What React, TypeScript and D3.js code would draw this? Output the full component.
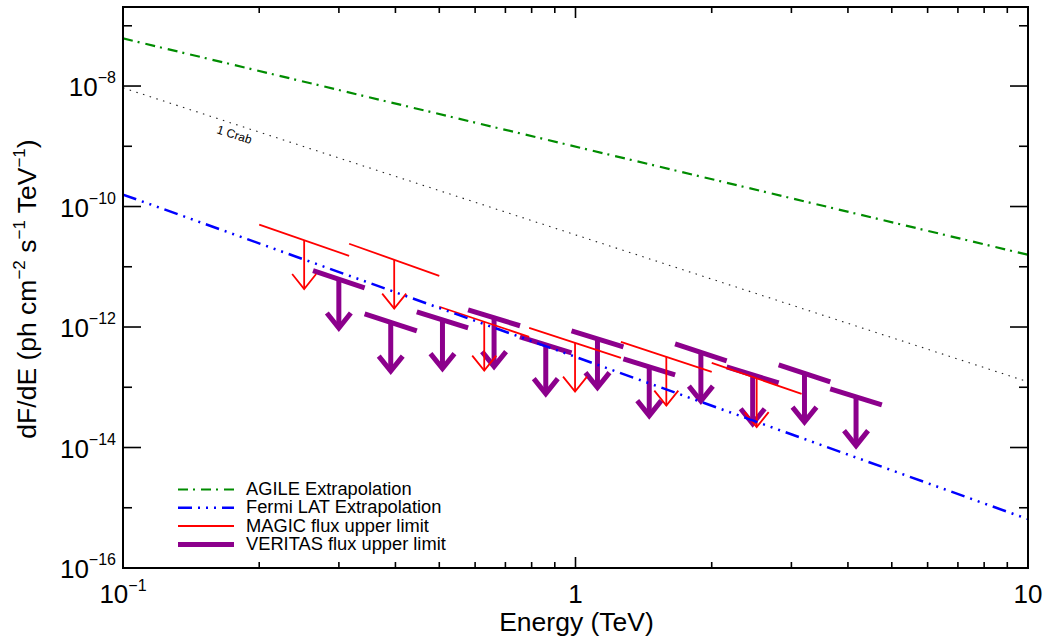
import React, { useEffect } from "react";
import * as d3 from "d3";

// ---------- data ----------
const lineEnergy = [0.1, 10];
const agileFlux = [6.17e-8, 1.58e-11];
const crabFlux = [9.33e-9, 1.23e-13];
const fermiFlux = [1.58e-10, 6.46e-16];

const magicELo = [0.2, 0.316, 0.5, 0.79, 1.26, 2.0];
const magicEHi = [0.316, 0.5, 0.79, 1.26, 2.0, 3.16];
const magicFLo = [4.99e-11, 2.41e-11, 2.17e-12, 9.7e-13, 5.68e-13, 2.54e-13];
const magicFHi = [1.52e-11, 7.08e-12, 6.87e-13, 3.08e-13, 1.8e-13, 7.76e-14];

const veritasEdges = [0.263, 0.342, 0.446, 0.579, 0.754, 0.98, 1.276, 1.66, 2.158, 2.812, 3.656, 4.753];
const veritasFLo = [8.59e-12, 1.66e-12, 1.79e-12, 1.93e-12, 6.87e-13, 8.65e-13, 2.96e-13, 5.26e-13, 2.18e-13, 2.36e-13, 9.4e-14];
const veritasFHi = [4.48e-12, 8.65e-13, 9.7e-13, 1.05e-12, 3.72e-13, 4.69e-13, 1.61e-13, 2.75e-13, 1.18e-13, 1.23e-13, 5.11e-14];

const arrowDecades = 0.81;

const xMajorTicks = [0.1, 1, 10];
const xTickLabels = [
  { v: 0.1, base: "10", exp: "\u22121" },
  { v: 1, base: "1", exp: "" },
  { v: 10, base: "10", exp: "" },
];
const yExpMin = -16;
const yExpMax = -7;
const yLabelExps = [-16, -14, -12, -10, -8];

const legendItems = [
  { label: "AGILE Extrapolation", color: "#008c00", width: 2.2, dash: "10,5,2,6" },
  { label: "Fermi LAT Extrapolation", color: "#0000ff", width: 2.5, dash: "14,6,2,6,2,6,2,6" },
  { label: "MAGIC flux upper limit", color: "#ff0000", width: 2, dash: "" },
  { label: "VERITAS flux upper limit", color: "#8c008c", width: 5, dash: "" },
];

// ---------- layout ----------
const W = 1045;
const H = 637;
const L = 123;
const R = 1028;
const T = 7;
const B = 568;
const FONT = "'Liberation Sans', Arial, Helvetica, sans-serif";

export default function App() {
  useEffect(() => {
    document.body.style.margin = "0";
  }, []);

  const x = d3.scaleLog().domain([0.1, 10]).range([L, R]);
  const y = d3.scaleLog().domain([1e-16, 2.05e-7]).range([B, T]);

  const line = d3
    .line<[number, number]>()
    .x((d) => x(d[0]))
    .y((d) => y(d[1]));

  const pts = (f: number[]) => lineEnergy.map((e, i) => [e, f[i]] as [number, number]);

  const xMinor = x.ticks().filter((t) => !xMajorTicks.some((m) => Math.abs(m - t) < 1e-9));
  const yMajors = d3.range(yExpMin, yExpMax + 1).filter((e) => e % 2 === 0);
  const yMinors = d3.range(yExpMin, yExpMax + 1).filter((e) => e % 2 !== 0);

  const ulMarks = (
    eLo: number[],
    eHi: number[],
    fLo: number[],
    fHi: number[],
    color: string,
    sw: number,
    key: string
  ) =>
    eLo.map((lo, i) => {
      const hi = eHi[i];
      const x1 = x(lo);
      const x2 = x(hi);
      const y1 = y(fLo[i]);
      const y2 = y(fHi[i]);
      const eC = Math.sqrt(lo * hi);
      const fC = Math.sqrt(fLo[i] * fHi[i]);
      const cx = x(eC);
      const cy = y(fC);
      const ty = y(fC / Math.pow(10, arrowDecades));
      return (
        <g key={key + i} stroke={color} strokeWidth={sw} fill="none">
          <line x1={x1} y1={y1} x2={x2} y2={y2} />
          <line x1={cx} y1={cy} x2={cx} y2={ty} />
          <polyline points={`${cx - 12},${ty - 15} ${cx},${ty} ${cx + 12},${ty - 15}`} />
        </g>
      );
    });

  const crabAngle = (Math.atan2(y(crabFlux[1]) - y(crabFlux[0]), x(10) - x(0.1)) * 180) / Math.PI;

  return (
    <svg width={W} height={H} style={{ display: "block", background: "#fff" }} fontFamily={FONT}>
      <defs>
        <clipPath id="plot">
          <rect x={L} y={T} width={R - L} height={B - T} />
        </clipPath>
      </defs>

      <g clipPath="url(#plot)">
        {ulMarks(veritasEdges.slice(0, -1), veritasEdges.slice(1), veritasFLo, veritasFHi, "#8c008c", 5, "v")}
        {ulMarks(magicELo, magicEHi, magicFLo, magicFHi, "#ff0000", 1.8, "m")}
        <path d={line(pts(crabFlux)) || ""} stroke="#222" strokeWidth={1.1} strokeDasharray="1.5,5.5" fill="none" />
        <path d={line(pts(fermiFlux)) || ""} stroke="#0000ff" strokeWidth={2.5} strokeDasharray="14,6,2,6,2,6,2,6" fill="none" />
        <path d={line(pts(agileFlux)) || ""} stroke="#008c00" strokeWidth={2.2} strokeDasharray="10,5,2,6" fill="none" />
      </g>

      {/* 1 Crab label */}
      <text transform={`translate(216,133) rotate(${crabAngle})`} fontSize={12} fill="#000">
        1 Crab
      </text>

      {/* frame */}
      <rect x={L} y={T} width={R - L} height={B - T} fill="none" stroke="#000" strokeWidth={2} />

      {/* ticks */}
      <g stroke="#000" strokeWidth={1.6}>
        {xMajorTicks.map((t) => (
          <g key={"xM" + t}>
            <line x1={x(t)} x2={x(t)} y1={B} y2={B - 11} />
            <line x1={x(t)} x2={x(t)} y1={T} y2={T + 11} />
          </g>
        ))}
        {xMinor.map((t) => (
          <g key={"xm" + t}>
            <line x1={x(t)} x2={x(t)} y1={B} y2={B - 6} />
            <line x1={x(t)} x2={x(t)} y1={T} y2={T + 6} />
          </g>
        ))}
        {yMajors.map((e) => (
          <g key={"yM" + e}>
            <line x1={L} x2={L + 18} y1={y(Math.pow(10, e))} y2={y(Math.pow(10, e))} />
            <line x1={R} x2={R - 18} y1={y(Math.pow(10, e))} y2={y(Math.pow(10, e))} />
          </g>
        ))}
        {yMinors.map((e) => (
          <g key={"ym" + e}>
            <line x1={L} x2={L + 9} y1={y(Math.pow(10, e))} y2={y(Math.pow(10, e))} />
            <line x1={R} x2={R - 9} y1={y(Math.pow(10, e))} y2={y(Math.pow(10, e))} />
          </g>
        ))}
      </g>

      {/* tick labels */}
      {xTickLabels.map((d) => (
        <text key={"xl" + d.v} x={x(d.v)} y={603} fontSize={26} textAnchor="middle" fill="#000">
          {d.base}
          {d.exp && (
            <tspan fontSize={16} dy={-12}>
              {d.exp}
            </tspan>
          )}
        </text>
      ))}
      {yLabelExps.map((e) => (
        <text key={"yl" + e} x={116} y={y(Math.pow(10, e)) + 10} fontSize={26} textAnchor="end" fill="#000">
          10
          <tspan fontSize={16} dy={-13}>
            {"\u2212" + Math.abs(e)}
          </tspan>
        </text>
      ))}

      {/* axis titles */}
      <text x={(L + R) / 2 + 1} y={631} fontSize={26.5} textAnchor="middle" fill="#000">
        Energy (TeV)
      </text>
      <text transform="translate(36,289) rotate(-90)" fontSize={26.5} textAnchor="middle" fill="#000">
        dF/dE (ph cm
        <tspan fontSize={17} dy={-11}>{"\u22122"}</tspan>
        <tspan dy={11}> s</tspan>
        <tspan fontSize={17} dy={-11}>{"\u22121"}</tspan>
        <tspan dy={11}> TeV</tspan>
        <tspan fontSize={17} dy={-11}>{"\u22121"}</tspan>
        <tspan dy={11}>)</tspan>
      </text>

      {/* legend */}
      {legendItems.map((d, i) => {
        const by = 495 + i * 18.3;
        return (
          <g key={d.label}>
            <line
              x1={178}
              x2={234}
              y1={by - 5.5}
              y2={by - 5.5}
              stroke={d.color}
              strokeWidth={d.width}
              strokeDasharray={d.dash || undefined}
            />
            <text x={246} y={by} fontSize={18.3} fill="#000">
              {d.label}
            </text>
          </g>
        );
      })}
    </svg>
  );
}
